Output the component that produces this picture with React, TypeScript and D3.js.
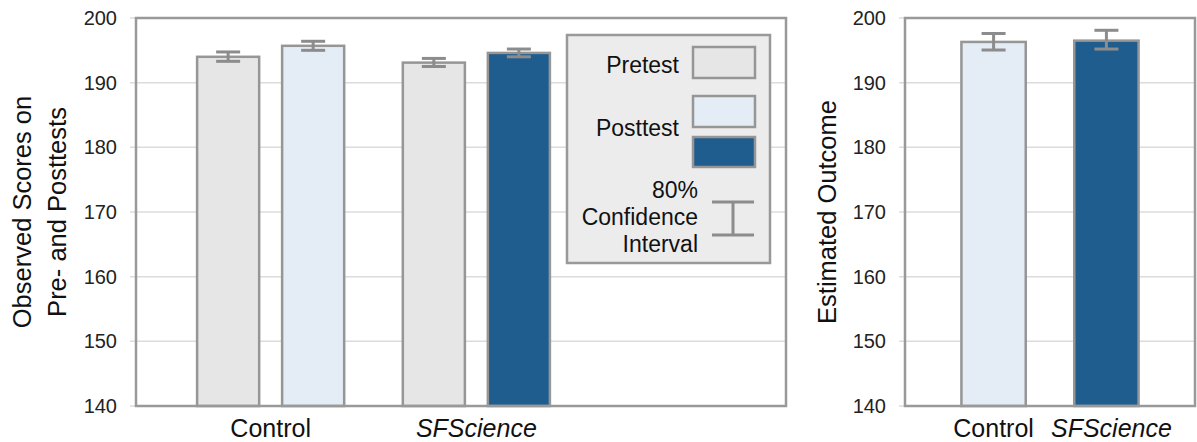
import React from "react";
import * as d3 from "d3";

// observed scores (left panel)
const groups = ["Control", "SFScience"];
const tests = ["Pretest", "Posttest"];
const pretestMeans = [194.0, 193.1];
const pretestLow = [193.3, 192.5];
const pretestHigh = [194.75, 193.75];
const posttestMeans = [195.7, 194.6];
const posttestLow = [195.0, 194.0];
const posttestHigh = [196.4, 195.2];

// estimated outcome (right panel)
const estimatedMeans = [196.3, 196.5];
const estimatedLow = [195.05, 195.2];
const estimatedHigh = [197.6, 198.1];

const yTicks = [140, 150, 160, 170, 180, 190, 200];

const FONT = "'Liberation Sans', Arial, Helvetica, sans-serif";
const FRAME = "#999";
const GRID = "#dcdcdc";
const BAR_STROKE = "#969696";
const ERR = "#8c8c8c";
const PRE_FILL = "#e6e6e6";
const CTRL_POST_FILL = "#e4ecf5";
const SF_POST_FILL = "#205d8f";

const top = 18;
const bottom = 406;

const y = d3.scaleLinear().domain([140, 200]).range([bottom, top]);

const ErrorBar = ({ cx, lo, hi, half = 12 }) => (
  <g stroke={ERR} strokeWidth={3}>
    <line x1={cx} x2={cx} y1={y(lo)} y2={y(hi)} />
    <line x1={cx - half} x2={cx + half} y1={y(lo)} y2={y(lo)} />
    <line x1={cx - half} x2={cx + half} y1={y(hi)} y2={y(hi)} />
  </g>
);

const YAxis = ({ x0, x1, labelRight }) => (
  <g>
    {yTicks.map((t) => (
      <g key={t}>
        <line x1={x0 - 6} x2={x1} y1={y(t)} y2={y(t)} stroke={GRID} strokeWidth={1.5} />
        <text
          x={labelRight}
          y={y(t)}
          dy="0.35em"
          textAnchor="end"
          fontSize={20}
          fill="#222"
        >
          {t}
        </text>
      </g>
    ))}
  </g>
);

const App = () => {
  // left panel
  const L0 = 136;
  const L1 = 786;
  const xGroup = d3
    .scaleBand()
    .domain(groups)
    .range([L0, 611])
    .paddingInner(0.285)
    .paddingOuter(0.297);
  const xTest = d3
    .scaleBand()
    .domain(tests)
    .range([0, xGroup.bandwidth()])
    .paddingInner(0.27);

  const leftBars = groups.flatMap((g, i) => [
    {
      g,
      test: "Pretest",
      v: pretestMeans[i],
      lo: pretestLow[i],
      hi: pretestHigh[i],
      fill: PRE_FILL,
    },
    {
      g,
      test: "Posttest",
      v: posttestMeans[i],
      lo: posttestLow[i],
      hi: posttestHigh[i],
      fill: i === 0 ? CTRL_POST_FILL : SF_POST_FILL,
    },
  ]);

  // right panel
  const R0 = 905;
  const R1 = 1195;
  const xRight = d3
    .scaleBand()
    .domain(groups)
    .range([R0, R1])
    .paddingInner(0.43)
    .paddingOuter(0.5);
  const rightFills = [CTRL_POST_FILL, SF_POST_FILL];

  return (
    <svg
      width={1197}
      height={442}
      style={{ position: "absolute", left: 0, top: 0, background: "#fff" }}
      fontFamily={FONT}
    >
      {/* ---------- left panel ---------- */}
      <YAxis x0={L0} x1={L1} labelRight={117} />
      {leftBars.map((d) => {
        const x = xGroup(d.g) + xTest(d.test);
        return (
          <rect
            key={d.g + d.test}
            x={x}
            y={y(d.v)}
            width={xTest.bandwidth()}
            height={bottom - y(d.v)}
            fill={d.fill}
            stroke={BAR_STROKE}
            strokeWidth={2.5}
          />
        );
      })}
      {leftBars.map((d) => (
        <ErrorBar
          key={"e" + d.g + d.test}
          cx={xGroup(d.g) + xTest(d.test) + xTest.bandwidth() / 2}
          lo={d.lo}
          hi={d.hi}
        />
      ))}
      <rect x={L0} y={top} width={L1 - L0} height={bottom - top} fill="none" stroke={FRAME} strokeWidth={2.5} />
      {groups.map((g) => (
        <text
          key={g}
          x={xGroup(g) + xGroup.bandwidth() / 2}
          y={437}
          textAnchor="middle"
          fontSize={25}
          fontStyle={g === "SFScience" ? "italic" : "normal"}
          fill="#111"
        >
          {g}
        </text>
      ))}
      <text transform="translate(31,212) rotate(-90)" textAnchor="middle" fontSize={25.5} fill="#111">
        <tspan x={0} dy={0}>Observed Scores on</tspan>
        <tspan x={0} dy={35}>Pre- and Posttests</tspan>
      </text>

      {/* legend */}
      <g>
        <rect x={567} y={35} width={203} height={228} fill="#ececec" stroke={FRAME} strokeWidth={2.5} />
        <rect x={693} y={47} width={62} height={31} fill={PRE_FILL} stroke={BAR_STROKE} strokeWidth={2.5} />
        <rect x={693} y={96} width={62} height={31} fill={CTRL_POST_FILL} stroke={BAR_STROKE} strokeWidth={2.5} />
        <rect x={693} y={137} width={62} height={30} fill={SF_POST_FILL} stroke={BAR_STROKE} strokeWidth={2.5} />
        <g stroke={ERR} strokeWidth={3}>
          <line x1={733} x2={733} y1={202} y2={235} />
          <line x1={712} x2={754} y1={202} y2={202} />
          <line x1={712} x2={754} y1={235} y2={235} />
        </g>
        <g fontSize={23} fill="#111" textAnchor="end">
          <text x={679} y={73}>Pretest</text>
          <text x={679} y={136}>Posttest</text>
          <text x={698} y={198}>80%</text>
          <text x={698} y={225}>Confidence</text>
          <text x={698} y={252}>Interval</text>
        </g>
      </g>

      {/* ---------- right panel ---------- */}
      <YAxis x0={R0} x1={R1} labelRight={886} />
      {groups.map((g, i) => (
        <rect
          key={"r" + g}
          x={xRight(g)}
          y={y(estimatedMeans[i])}
          width={xRight.bandwidth()}
          height={bottom - y(estimatedMeans[i])}
          fill={rightFills[i]}
          stroke={BAR_STROKE}
          strokeWidth={2.5}
        />
      ))}
      {groups.map((g, i) => (
        <ErrorBar
          key={"re" + g}
          cx={xRight(g) + xRight.bandwidth() / 2}
          lo={estimatedLow[i]}
          hi={estimatedHigh[i]}
        />
      ))}
      <rect x={R0} y={top} width={R1 - R0} height={bottom - top} fill="none" stroke={FRAME} strokeWidth={2.5} />
      {groups.map((g) => (
        <text
          key={"rl" + g}
          x={xRight(g) + xRight.bandwidth() / 2 + (g === "SFScience" ? 5 : 0)}
          y={437}
          textAnchor="middle"
          fontSize={25}
          fontStyle={g === "SFScience" ? "italic" : "normal"}
          fill="#111"
        >
          {g}
        </text>
      ))}
      <text transform="translate(836,212) rotate(-90)" textAnchor="middle" fontSize={25.5} fill="#111">
        Estimated Outcome
      </text>
    </svg>
  );
};

export default App;
